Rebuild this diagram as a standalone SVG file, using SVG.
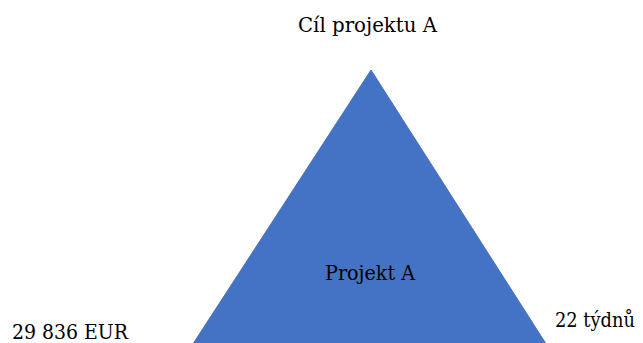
<svg xmlns="http://www.w3.org/2000/svg" width="643" height="343" viewBox="0 0 643 343">
<style>
.tri{fill:#4472C4;stroke:#4472C4;stroke-width:1}
</style>
<rect width="643" height="343" fill="#fff"/>
<g font-family="DejaVu Serif, serif" font-size="24" fill="#000">
<g id="triangle">
<polygon class="tri" points="371,70 550,350 189,350"/>
<text x="325" y="280" textLength="90" lengthAdjust="spacingAndGlyphs" font-size="20">Projekt A</text>
</g>
<g id="goal"><text x="298" y="32" textLength="139" lengthAdjust="spacingAndGlyphs" font-size="21">Cíl projektu A</text></g>
<g id="cost"><text x="12" y="339" textLength="116" lengthAdjust="spacingAndGlyphs" font-size="21">29 836 EUR</text></g>
<g id="time"><text x="555" y="327" textLength="80" lengthAdjust="spacingAndGlyphs" font-size="20">22 týdnů</text></g>
</g>
<g id="connectors"/>
</svg>
